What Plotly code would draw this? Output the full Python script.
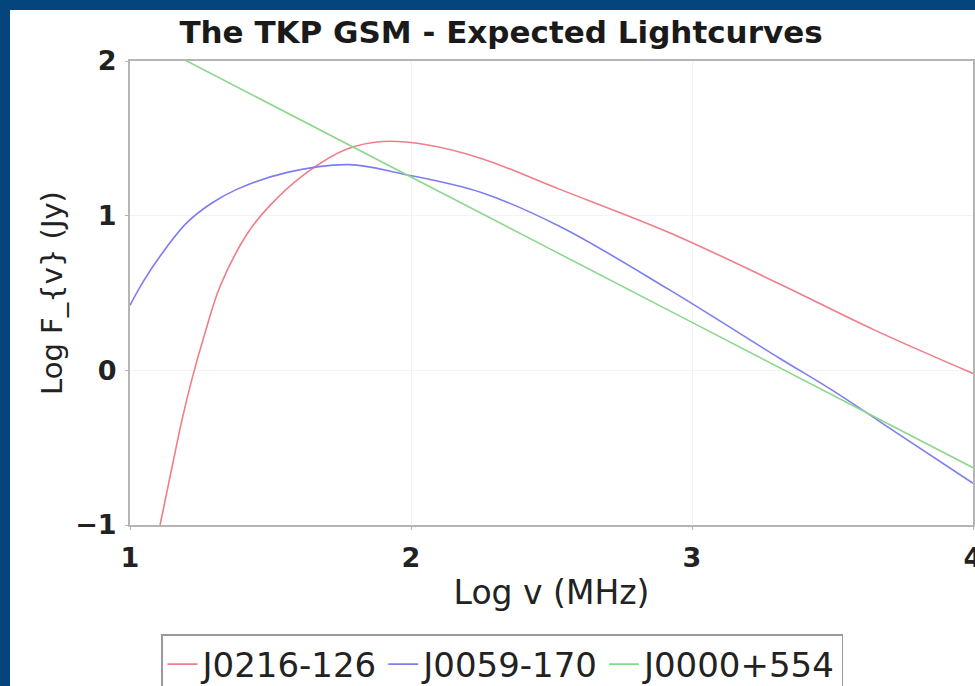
import plotly.graph_objects as go

# ---- data ----
red_name = "J0216-126"
red_x = [1.107, 1.14, 1.185, 1.22, 1.27, 1.32, 1.416, 1.50, 1.63, 1.77, 1.90, 2.05, 2.25, 2.53, 2.92, 3.31, 3.65, 4.0]
red_y = [-1.0, -0.71, -0.32, -0.06, 0.26, 0.54, 0.88, 1.07, 1.28, 1.43, 1.48, 1.46, 1.37, 1.17, 0.89, 0.56, 0.26, -0.02]

blue_name = "J0059-170"
blue_x = [1.0, 1.036, 1.10, 1.20, 1.29, 1.38, 1.56, 1.78, 1.97, 2.25, 2.53, 2.92, 3.31, 3.5, 3.75, 4.0]
blue_y = [0.42, 0.54, 0.72, 0.95, 1.08, 1.17, 1.28, 1.33, 1.27, 1.15, 0.93, 0.52, 0.08, -0.13, -0.43, -0.73]

green_name = "J0000+554"
green_x = [1.0, 2.0, 3.0, 4.0]
green_y = [2.19, 1.25, 0.31, -0.63]

x_ticks = [1, 2, 3, 4]
y_ticks = [-1, 0, 1, 2]

title_text = "The TKP GSM - Expected Lightcurves"
x_title = "Log v (MHz)"
y_title = "Log F_{v} (Jy)"

FONT = "DejaVu Sans"

fig = go.Figure()
series = [
    (red_name, red_x, red_y, "rgb(240,125,135)"),
    (blue_name, blue_x, blue_y, "rgb(125,125,240)"),
    (green_name, green_x, green_y, "rgb(140,215,140)"),
]
for name, xs, ys, col in series:
    fig.add_trace(go.Scatter(
        x=xs, y=ys, mode="lines", name=name,
        line=dict(color=col, width=1.6, shape="spline", smoothing=1.0),
    ))

# plot area: x 130..973, y 61..525 in a 975x686 page
L, R, T, B = 130, 2, 61, 161
W, H = 975, 686
pw, ph = W - L - R, H - T - B

def px2paper_x(px):
    return (px - L) / pw

def px2paper_y(py):
    return (H - B - py) / ph

fig.add_shape(
    type="rect", xref="paper", yref="paper", layer="below",
    x0=px2paper_x(10), x1=px2paper_x(W + 5),
    y0=px2paper_y(H + 5), y1=px2paper_y(10),
    fillcolor="white", line=dict(width=0),
)

fig.update_layout(
    width=W, height=H,
    margin=dict(l=L, r=R, t=T, b=B, pad=0, autoexpand=False),
    paper_bgcolor="#04457e",
    plot_bgcolor="white",
    font=dict(family=FONT, color="#222222"),
    title=dict(
        text=title_text, x=px2paper_x(501), xref="paper", xanchor="center",
        y=1 - 32 / H, yref="container", yanchor="middle",
        font=dict(family=FONT, size=31, color="#1a1a1a", weight="bold"),
    ),
    showlegend=True,
    legend=dict(
        orientation="h", x=px2paper_x(161), xanchor="left",
        y=px2paper_y(634), yanchor="top",
        bordercolor="#9a9a9a", borderwidth=1.5, bgcolor="white",
        font=dict(family=FONT, size=34, color="#222222"),
        itemwidth=30, tracegroupgap=0,
    ),
)

fig.update_xaxes(
    range=[1, 4], tickvals=x_ticks, ticktext=[str(v) for v in x_ticks],
    showgrid=True, gridcolor="#f3f3f3", zeroline=False, automargin=False,
    showline=True, linecolor="#b5b5b5", linewidth=2, mirror=True,
    ticks="outside", ticklen=3, tickcolor="#b5b5b5",
    ticklabeloverflow="allow", ticklabelstandoff=5,
    tickfont=dict(family=FONT, size=27, color="#222222", weight="bold"),
    title=dict(text=x_title, font=dict(family=FONT, size=33, color="#222222"), standoff=8),
)
fig.update_yaxes(
    range=[-1, 2], tickvals=y_ticks, ticktext=[("\u2212" + str(-v)) if v < 0 else str(v) for v in y_ticks],
    showgrid=True, gridcolor="#f3f3f3", zeroline=False, automargin=False,
    showline=True, linecolor="#b5b5b5", linewidth=2, mirror=True,
    ticks="outside", ticklen=3, tickcolor="#b5b5b5",
    ticklabeloverflow="allow", ticklabelstandoff=3,
    tickfont=dict(family=FONT, size=27, color="#222222", weight="bold"),
    title=dict(text=y_title, font=dict(family=FONT, size=29, color="#222222"), standoff=4),
)

fig.write_html("out.html")
